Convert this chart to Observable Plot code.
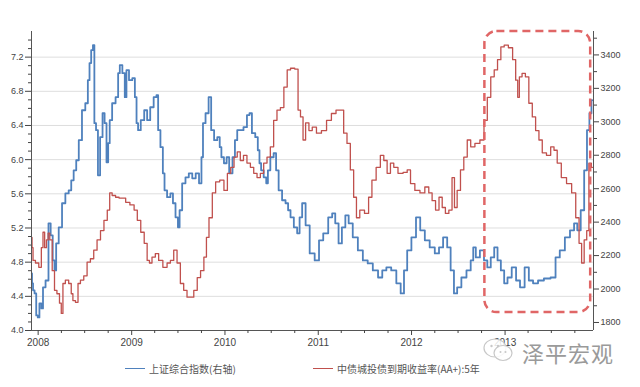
<!DOCTYPE html>
<html><head><meta charset="utf-8">
<script src="https://cdn.jsdelivr.net/npm/d3@7"></script>
<script src="https://cdn.jsdelivr.net/npm/@observablehq/plot@0.6"></script>
<style>
html,body{margin:0;padding:0;background:#fff;}
body{width:640px;height:387px;overflow:hidden;position:relative;font-family:"Liberation Sans",Arial,sans-serif;}
#chart{position:absolute;left:0;top:0;}
.legend{position:absolute;top:361px;font-family:"Noto Sans CJK SC","Noto Sans",sans-serif;font-size:10px;color:#555;display:flex;align-items:center;white-space:nowrap;}
.legend .sw{display:inline-block;width:20px;height:1.5px;margin-right:4px;}
#mark{position:absolute;left:522px;top:336px;font-family:"Noto Sans CJK SC",sans-serif;font-size:22px;color:#9a9a9a;letter-spacing:1px;}
#logo{position:absolute;left:482px;top:336px;}
</style></head><body>
<div id="chart"></div>
<div class="legend" id="lg1" style="left:125px"><span class="sw" style="background:#4f81bd"></span><span>上证综合指数(右轴)</span></div>
<div class="legend" id="lg2" style="left:313px"><span class="sw" style="background:#c0504d"></span><span>中债城投债到期收益率(AA+):5年</span></div>
<svg id="logo" width="34" height="28" viewBox="0 0 34 28">
  <ellipse cx="13" cy="12" rx="11" ry="9" fill="rgba(255,255,255,0.85)" stroke="#c8c8c8" stroke-width="1.2"/>
  <ellipse cx="21" cy="17" rx="9" ry="7.5" fill="rgba(255,255,255,0.85)" stroke="#c8c8c8" stroke-width="1.2"/>
  <circle cx="9.5" cy="10" r="1.2" fill="#c8c8c8"/><circle cx="16" cy="10" r="1.2" fill="#c8c8c8"/>
  <circle cx="18.5" cy="16" r="1" fill="#c8c8c8"/><circle cx="23.5" cy="16" r="1" fill="#c8c8c8"/>
</svg>
<div id="mark">泽平宏观</div>
<script>
// ---- data ----
const redDates = ["2007-12-07","2007-12-09","2007-12-15","2007-12-28","2008-01-10","2008-01-17","2008-01-23","2008-01-30","2008-02-06","2008-02-12","2008-02-19","2008-03-02","2008-03-08","2008-03-21","2008-03-28","2008-04-04","2008-04-10","2008-04-23","2008-05-06","2008-05-13","2008-05-19","2008-06-02","2008-06-08","2008-06-21","2008-07-04","2008-07-17","2008-07-30","2008-08-12","2008-08-25","2008-09-08","2008-09-21","2008-10-04","2008-10-10","2008-10-23","2008-11-06","2008-11-19","2008-12-02","2008-12-15","2009-01-04","2009-01-17","2009-01-29","2009-02-13","2009-02-25","2009-03-08","2009-03-15","2009-03-28","2009-04-10","2009-04-23","2009-05-13","2009-05-26","2009-06-08","2009-06-21","2009-07-04","2009-07-17","2009-07-30","2009-08-12","2009-08-25","2009-09-08","2009-09-21","2009-10-04","2009-10-17","2009-10-24","2009-11-06","2009-11-19","2009-12-02","2009-12-21","2010-01-04","2010-01-17","2010-01-30","2010-02-12","2010-02-24","2010-03-08","2010-03-21","2010-04-04","2010-04-17","2010-04-30","2010-05-13","2010-05-26","2010-06-08","2010-06-21","2010-07-04","2010-07-17","2010-07-30","2010-08-13","2010-08-26","2010-09-08","2010-09-21","2010-10-11","2010-10-17","2010-10-30","2010-11-06","2010-11-19","2010-12-02","2010-12-15","2011-01-04","2011-01-23","2011-02-13","2011-03-02","2011-03-21","2011-04-04","2011-04-17","2011-04-30","2011-05-13","2011-05-26","2011-06-04","2011-06-21","2011-07-11","2011-07-23","2011-08-06","2011-08-25","2011-09-08","2011-09-21","2011-10-04","2011-10-17","2011-10-30","2011-11-19","2011-12-09","2011-12-21","2012-01-04","2012-01-24","2012-02-13","2012-03-02","2012-03-15","2012-03-28","2012-04-11","2012-04-24","2012-05-06","2012-05-19","2012-06-02","2012-06-13","2012-06-21","2012-07-04","2012-07-17","2012-07-30","2012-08-13","2012-08-26","2012-09-15","2012-10-04","2012-10-17","2012-10-30","2012-11-13","2012-11-26","2012-12-09","2012-12-22","2013-01-04","2013-01-24","2013-02-06","2013-02-17","2013-02-22","2013-03-02","2013-03-15","2013-03-28","2013-04-11","2013-04-24","2013-05-07","2013-05-20","2013-06-02","2013-06-22","2013-07-05","2013-07-18","2013-07-30","2013-08-19","2013-09-09","2013-09-28","2013-10-11","2013-10-24","2013-10-31","2013-11-13","2013-11-20","2013-11-30","2013-12-09"];
const redValues = [5.09,4.97,4.82,4.79,4.74,4.97,5.15,4.97,5.06,5.14,5.06,4.70,4.47,4.43,4.32,4.20,4.55,4.59,4.55,4.43,4.35,4.33,4.55,4.59,4.64,4.80,4.84,4.94,5.06,5.17,5.29,5.41,5.61,5.58,5.56,5.55,5.55,5.50,5.47,5.41,5.29,5.15,5.02,4.82,4.79,4.86,4.90,4.82,4.74,4.79,4.82,4.94,4.79,4.55,4.47,4.39,4.39,4.47,4.62,4.70,4.86,5.09,5.32,5.61,5.74,5.76,5.64,5.84,5.91,6.03,6.09,5.99,6.05,5.96,5.91,5.84,5.79,5.84,5.96,6.03,6.15,6.46,6.58,6.61,6.85,7.05,7.07,7.06,6.58,6.50,6.23,6.43,6.34,6.38,6.31,6.34,6.46,6.54,6.58,6.58,6.31,6.19,5.88,5.56,5.32,5.41,5.37,5.56,5.76,5.91,6.05,5.99,5.84,5.96,5.91,5.84,5.85,5.88,5.72,5.64,5.61,5.68,5.61,5.52,5.41,5.56,5.44,5.37,5.41,5.79,5.44,5.64,5.88,6.03,6.23,6.15,6.19,6.23,6.46,6.73,6.97,7.05,7.17,7.32,7.34,7.31,7.17,6.93,6.73,6.97,7.01,6.97,6.66,6.50,6.34,6.23,6.08,6.05,6.15,6.11,5.96,5.79,5.72,5.61,5.32,5.02,4.79,5.06,5.17,5.96,5.91];

const blueDates = ["2007-12-07","2007-12-09","2007-12-15","2007-12-21","2007-12-28","2008-01-02","2008-01-10","2008-01-17","2008-01-23","2008-02-06","2008-02-15","2008-02-23","2008-03-02","2008-03-08","2008-03-15","2008-03-28","2008-04-10","2008-04-23","2008-05-06","2008-05-13","2008-05-25","2008-06-02","2008-06-14","2008-06-27","2008-07-10","2008-07-17","2008-07-23","2008-07-30","2008-08-06","2008-08-10","2008-08-19","2008-08-25","2008-09-05","2008-09-13","2008-09-21","2008-09-28","2008-10-04","2008-10-10","2008-10-23","2008-11-06","2008-11-12","2008-11-19","2008-12-02","2008-12-08","2008-12-15","2008-12-28","2009-01-10","2009-01-17","2009-01-23","2009-01-29","2009-02-13","2009-02-25","2009-03-08","2009-03-21","2009-04-04","2009-04-12","2009-04-17","2009-04-30","2009-05-06","2009-05-13","2009-05-26","2009-06-08","2009-06-15","2009-06-28","2009-07-04","2009-07-11","2009-07-24","2009-08-06","2009-08-19","2009-09-02","2009-09-15","2009-09-28","2009-10-04","2009-10-10","2009-10-24","2009-11-03","2009-11-13","2009-11-26","2009-12-08","2009-12-15","2009-12-21","2010-01-04","2010-01-11","2010-01-24","2010-02-06","2010-02-12","2010-02-24","2010-03-08","2010-03-21","2010-04-04","2010-04-10","2010-04-23","2010-05-06","2010-05-13","2010-05-19","2010-05-26","2010-06-08","2010-06-15","2010-06-21","2010-07-04","2010-07-17","2010-07-23","2010-08-06","2010-08-19","2010-09-02","2010-09-08","2010-09-21","2010-10-04","2010-10-17","2010-10-23","2010-11-06","2010-11-19","2010-12-08","2010-12-28","2011-01-11","2011-01-30","2011-02-19","2011-03-02","2011-03-15","2011-03-28","2011-04-10","2011-04-24","2011-05-06","2011-05-26","2011-06-15","2011-07-04","2011-07-23","2011-08-13","2011-09-02","2011-09-15","2011-10-04","2011-10-23","2011-11-13","2011-11-26","2011-12-09","2011-12-21","2012-01-11","2012-01-26","2012-02-13","2012-03-02","2012-03-22","2012-04-11","2012-04-24","2012-05-13","2012-05-26","2012-06-09","2012-06-21","2012-07-04","2012-07-24","2012-08-13","2012-08-26","2012-09-02","2012-09-15","2012-10-04","2012-10-17","2012-10-30","2012-11-13","2012-11-26","2012-12-09","2012-12-22","2013-01-04","2013-01-17","2013-02-06","2013-02-20","2013-03-09","2013-03-28","2013-04-11","2013-04-30","2013-05-20","2013-06-15","2013-07-11","2013-07-24","2013-08-13","2013-09-02","2013-09-22","2013-10-04","2013-10-17","2013-10-31","2013-11-13","2013-11-22","2013-12-02","2013-12-08"];
const blueValues = [2093,2034,1992,1974,1842,1830,1914,1884,2010,2051,2393,2321,2171,2111,2273,2369,2513,2572,2590,2650,2710,2770,2890,3069,3111,3249,3351,3429,3459,2992,2950,2680,2908,3051,2992,2758,2872,3010,3111,3147,3291,3339,3291,3147,3309,3249,3261,3147,2992,2950,3010,3069,3010,3087,3147,3159,2950,2848,2692,2590,2549,2572,2513,2429,2369,2471,2632,2668,2692,2662,2692,2632,2788,2992,3051,3147,2950,2890,2908,2848,2788,2752,2788,2692,2788,2890,2950,2950,2968,3040,3051,2932,2908,2830,2752,2710,2668,2632,2710,2788,2812,2710,2590,2531,2513,2471,2429,2369,2333,2429,2513,2381,2213,2171,2291,2333,2429,2453,2393,2273,2369,2441,2393,2309,2231,2171,2153,2111,2069,2111,2129,2111,2034,1974,2111,2231,2309,2429,2351,2291,2249,2213,2249,2309,2249,2111,1974,2010,2069,2111,2171,2249,2189,2231,2171,2129,2189,2249,2171,2111,2034,2069,2129,2051,2010,2129,2051,2034,2051,2063,2069,2189,2231,2309,2351,2393,2351,2471,2710,2950,3051,3129];

const leftTicks = [4.0,4.4,4.8,5.2,5.6,6.0,6.4,6.8,7.2];
const leftMinorTicks = [4.1,4.2,4.3,4.5,4.6,4.7,4.9,5.0,5.1,5.3,5.4,5.5,5.7,5.8,5.9,6.1,6.2,6.3,6.5,6.6,6.7,6.9,7.0,7.1,7.3,7.4];
const rightTicks = [1800,2000,2200,2400,2600,2800,3000,3200,3400];
const rightMinorTicks = [1900,2100,2300,2500,2700,2900,3100,3300,3500];
const yearTicks = ["2008-01-01","2009-01-01","2010-01-01","2011-01-01","2012-01-01","2013-01-01"];
const quarterTicks = ["2008-04-01","2008-07-01","2008-10-01","2009-04-01","2009-07-01","2009-10-01","2010-04-01","2010-07-01","2010-10-01","2011-04-01","2011-07-01","2011-10-01","2012-04-01","2012-07-01","2012-10-01","2013-04-01","2013-07-01","2013-10-01"];
const xRange = ["2007-12-06","2013-12-13"];
const leftRange = [4.0, 7.5];
const rightRange = [1752, 3540];
const highlightDates = ["2012-10-14","2013-12-02"];
const highlightValues = [4.21, 7.5];

// ---- build ----
const toLeft = r => leftRange[0] + (r - rightRange[0]) * (leftRange[1] - leftRange[0]) / (rightRange[1] - rightRange[0]);
const fromLeft = l => rightRange[0] + (l - leftRange[0]) * (rightRange[1] - rightRange[0]) / (leftRange[1] - leftRange[0]);
const D = s => new Date(s + "T00:00:00Z");
const red = redDates.map((d, i) => ({date: D(d), value: redValues[i]}));
const blue = blueDates.map((d, i) => ({date: D(d), value: blueValues[i]}));
const highlight = [{start: D(highlightDates[0]), end: D(highlightDates[1]), low: highlightValues[0], high: highlightValues[1]}];
const axisColor = "#555";
const font = "Liberation Sans, Arial, sans-serif";

const chart = Plot.plot({
  width: 640,
  height: 352,
  marginLeft: 31,
  marginRight: 47,
  marginTop: 31,
  marginBottom: 22,
  style: {fontFamily: font, fontSize: "9px", color: "#444", background: "#fff"},
  x: {type: "utc", domain: xRange.map(D)},
  y: {domain: leftRange},
  marks: [
    Plot.ruleY(leftTicks.slice(1), {stroke: "#dedede", strokeWidth: 1}),
    Plot.line(blue, {x: "date", y: d => toLeft(d.value), stroke: "#4f81bd", strokeWidth: 1.8, curve: "step"}),
    Plot.line(red, {x: "date", y: "value", stroke: "#c0504d", strokeWidth: 1.3, curve: "step"}),
    Plot.ruleX([D(xRange[0])], {stroke: axisColor}),
    Plot.ruleX([D(xRange[1])], {stroke: axisColor}),
    Plot.ruleY([leftRange[0]], {stroke: axisColor}),
    Plot.axisY(leftTicks, {anchor: "left", tickSize: 6, tickPadding: 2, tickFormat: d => d.toFixed(1), color: "#444", label: null, fontSize: 9}),
    Plot.axisY(leftMinorTicks, {anchor: "left", tickSize: 3, tickFormat: () => "", color: "#444", label: null}),
    Plot.axisY(rightTicks.map(toLeft), {anchor: "right", tickSize: 5, tickPadding: 2, tickFormat: d => String(Math.round(fromLeft(d) / 100) * 100), color: "#444", label: null, fontSize: 9}),
    Plot.axisY(rightMinorTicks.map(toLeft), {anchor: "right", tickSize: 3, tickFormat: () => "", color: "#444", label: null}),
    Plot.axisX(yearTicks.map(D), {anchor: "bottom", tickSize: 5, tickPadding: 3, tickFormat: d => String(d.getUTCFullYear()), color: "#444", label: null, fontSize: 10}),
    Plot.axisX(quarterTicks.map(D), {anchor: "bottom", tickSize: 3, tickFormat: () => "", color: "#444", label: null}),
    Plot.rect(highlight, {x1: "start", x2: "end", y1: "low", y2: "high", rx: 12, fill: "none", stroke: "#e06666", strokeWidth: 2.5, strokeDasharray: "8,5"})
  ]
});
document.getElementById("chart").appendChild(chart);
</script>
</body></html>
